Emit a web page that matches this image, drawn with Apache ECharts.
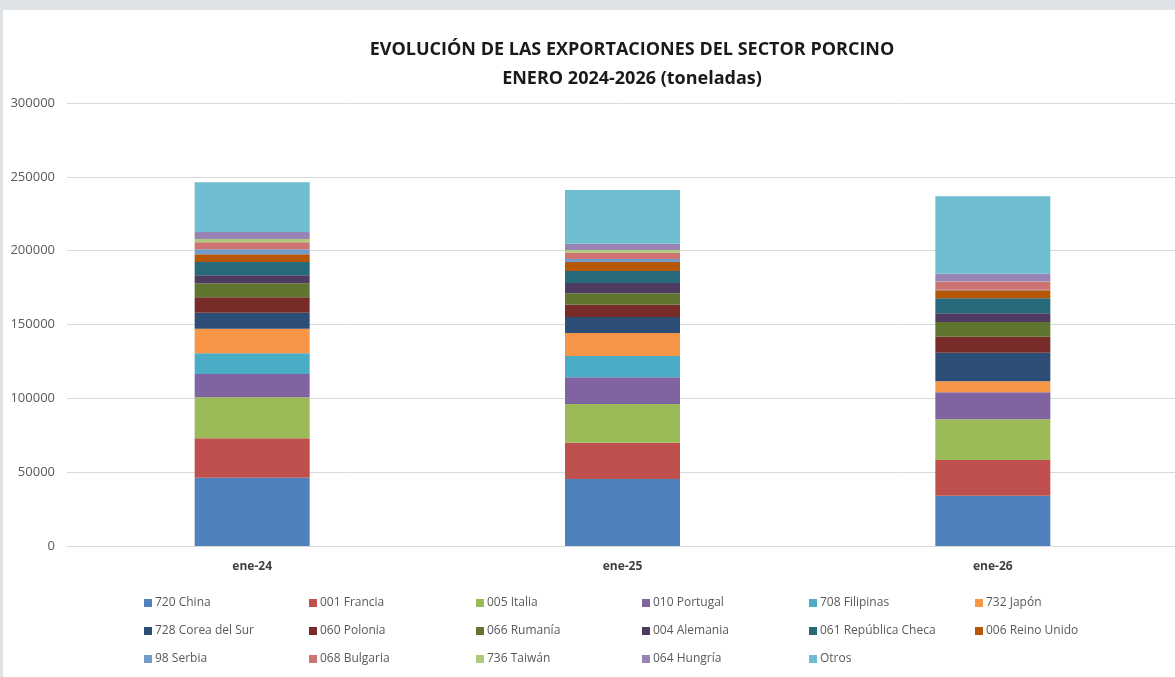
<!DOCTYPE html>
<html>
<head>
<meta charset="utf-8">
<script src="https://cdn.jsdelivr.net/npm/echarts@6/dist/echarts.min.js"></script>
<style>
  html, body { margin: 0; padding: 0; width: 1175px; height: 677px; overflow: hidden; background: #dde3e6; }
  #chart { position: absolute; left: 3px; top: 10px; width: 1180px; height: 667px; background: #ffffff; }
</style>
</head>
<body>
<div id="chart"></div>
<script>
const categories = ["ene-24", "ene-25", "ene-26"];

const china = [46300, 45400, 34100];
const francia = [26600, 24600, 24100];
const italia = [27800, 26200, 27600];
const portugal = [15800, 18000, 18300];
const filipinas = [14000, 14500, 0];
const japon = [16700, 15500, 7400];
const corea = [10800, 10900, 19400];
const polonia = [10400, 8300, 10800];
const rumania = [9500, 7700, 10000];
const alemania = [5400, 7000, 5900];
const checa = [9000, 8100, 10100];
const reinoUnido = [5200, 6100, 5500];
const serbia = [3400, 2100, 300];
const bulgaria = [4800, 4200, 5400];
const taiwan = [2200, 1800, 300];
const hungria = [4700, 4300, 5200];
const otros = [33700, 36400, 52500];

const seriesNames = [
  "720 China", "001 Francia", "005 Italia", "010 Portugal", "708 Filipinas", "732 Japón",
  "728 Corea del Sur", "060 Polonia", "066 Rumanía", "004 Alemania", "061 República Checa", "006 Reino Unido",
  "98 Serbia", "068 Bulgaria", "736 Taiwán", "064 Hungría", "Otros"
];
const seriesValues = [
  china, francia, italia, portugal, filipinas, japon,
  corea, polonia, rumania, alemania, checa, reinoUnido,
  serbia, bulgaria, taiwan, hungria, otros
];
const colors = [
  "#4f81bd", "#c0504d", "#9bbb59", "#8064a2", "#4bacc6", "#f79646",
  "#2c4d75", "#772c2a", "#5f7530", "#4d3b62", "#276a7c", "#b65708",
  "#729aca", "#cd7371", "#afc97a", "#9983b5", "#6fbdd1"
];
const yTicks = [0, 50000, 100000, 150000, 200000, 250000, 300000];

const fontFamily = "'Open Sans', sans-serif";

// one vertical legend per column so the columns line up like the original
const legendX = [136, 301, 468, 634, 801, 967];
const legends = legendX.map((x, col) => ({
  orient: "vertical",
  left: x,
  top: 582,
  itemWidth: 8,
  itemHeight: 8,
  itemGap: 16,
  icon: "rect",
  selectedMode: false,
  textStyle: { color: "#595959", fontSize: 12, fontFamily: fontFamily, padding: [0, 0, 0, -2] },
  data: seriesNames.filter((n, i) => i % 6 === col)
}));

const chart = echarts.init(document.getElementById("chart"));
chart.setOption({
  animation: false,
  color: colors,
  title: {
    text: "EVOLUCIÓN DE LAS EXPORTACIONES DEL SECTOR PORCINO\nENERO 2024-2026 (toneladas)",
    left: 624,
    top: 20,
    textAlign: "center",
    textStyle: { fontSize: 18, fontWeight: "bold", color: "#1a1a1a", lineHeight: 29, fontFamily: fontFamily }
  },
  legend: legends,
  grid: { left: 64, right: 5, top: 93, bottom: 131 },
  xAxis: {
    type: "category",
    data: categories,
    axisLine: { lineStyle: { color: "#d9d9d9" } },
    axisTick: { show: false },
    axisLabel: { color: "#404040", fontWeight: "bold", fontSize: 12, margin: 15, fontFamily: fontFamily }
  },
  yAxis: {
    type: "value",
    min: yTicks[0],
    max: yTicks[yTicks.length - 1],
    interval: yTicks[1] - yTicks[0],
    axisLine: { show: false },
    axisTick: { show: false },
    axisLabel: { color: "#595959", fontSize: 13, margin: 12, fontFamily: fontFamily, formatter: (v) => String(v) },
    splitLine: { lineStyle: { color: "#d9d9d9", width: 1 } }
  },
  series: seriesNames.map((name, i) => ({
    name: name,
    type: "bar",
    stack: "total",
    barWidth: 115,
    data: seriesValues[i],
    itemStyle: { color: colors[i] }
  }))
});
</script>
</body>
</html>
